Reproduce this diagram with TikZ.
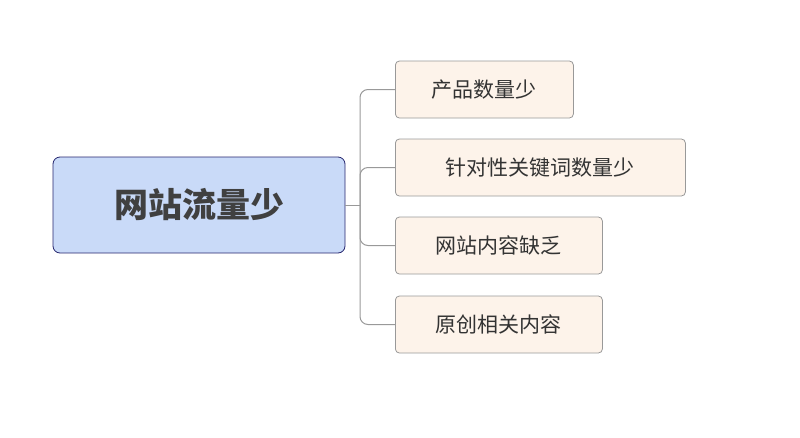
\documentclass[tikz,border=0pt]{standalone}
\usepackage{fontspec}
\newfontfamily\cjk{Noto Sans CJK SC}
\begin{document}
\begin{tikzpicture}[x=1pt,y=-1pt,
  rootbox/.style={draw=black!60!blue!70!gray,line width=0.8pt,fill=rootc,rounded corners=7pt,minimum width=292pt,minimum height=96pt,font=\cjk\fontsize{34}{40}\selectfont\bfseries,text=black!75},
  leaf/.style={draw=gray!80,line width=0.8pt,fill=leafc,rounded corners=4pt,minimum height=57pt,anchor=west,font=\cjk\fontsize{21}{26}\selectfont,text=black!80,inner xsep=0pt},
  conn/.style={draw=gray!80,line width=1pt,rounded corners=8pt}]
\definecolor{rootc}{HTML}{C9DAF8}
\definecolor{leafc}{HTML}{FDF3EA}
\useasboundingbox (0,0) rectangle (800,437);
\node[rootbox] (r) at (199,205) {网站流量少};
\node[leaf,minimum width=178pt] (a) at (395,89.5) {产品数量少};
\node[leaf,minimum width=290pt] (b) at (395,167.5) {针对性关键词数量少};
\node[leaf,minimum width=207pt] (c) at (395,245.5) {网站内容缺乏};
\node[leaf,minimum width=207pt] (d) at (395,324.5) {原创相关内容};
\coordinate (j) at (360,205);
\draw[conn] (r.east) -- (j);
\foreach \n in {a,b,c,d} \draw[conn] (j) |- (\n.west);
\end{tikzpicture}
\end{document}
